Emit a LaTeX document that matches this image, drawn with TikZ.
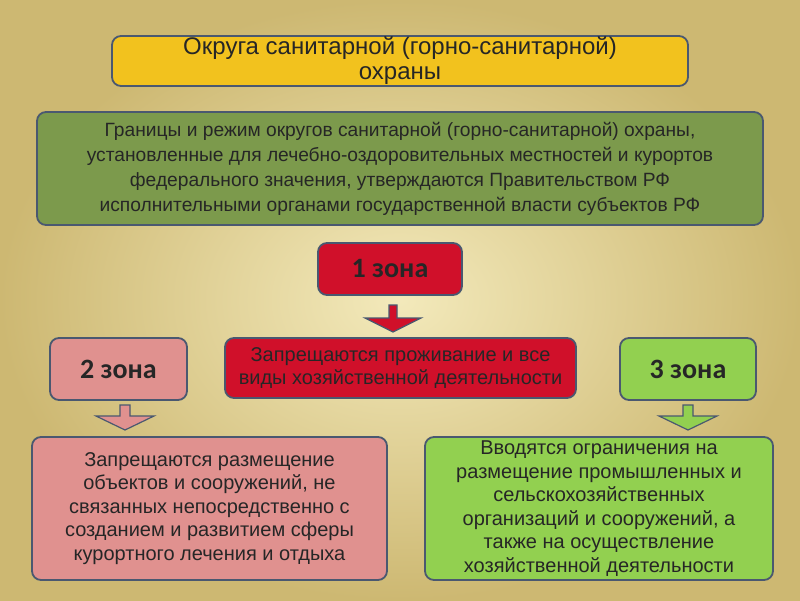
\documentclass[tikz,border=0pt]{standalone}
\usepackage{fontspec}
\setmainfont{Liberation Sans}
\newfontfamily\zonefont{Carlito}
\begin{document}
\begin{tikzpicture}[x=1pt,y=-1pt,
  box/.style={draw=#1, line width=1.8pt, rounded corners=9pt, align=center, inner sep=0pt, text=black!85},
  barrow/.style={draw=#1, line width=1.2pt}]
\definecolor{bgc}{HTML}{F0E4AA}
\definecolor{edgec}{HTML}{CDB872}
\definecolor{slate}{HTML}{4A5870}
\definecolor{titlef}{HTML}{F2C21E}
\definecolor{greenf}{HTML}{7C9A4C}
\definecolor{redf}{HTML}{D0102A}
\definecolor{pinkf}{HTML}{E0918F}
\definecolor{lgreenf}{HTML}{92D050}
\useasboundingbox (0,0) rectangle (800,600);
\shade[inner color=bgc!80!white, outer color=edgec] (0,0) rectangle (800,600);
\node[box=slate, fill=titlef, minimum width=576pt, minimum height=50pt, font=\fontsize{24}{25}\selectfont] (t) at (400,61) {Округа санитарной (горно-санитарной)\\охраны};
\node[box=slate, fill=greenf, minimum width=726pt, minimum height=113pt, font=\fontsize{19.2}{25}\selectfont] (g) at (400,168.5) {Границы и режим округов санитарной (горно-санитарной) охраны,\\установленные для лечебно-оздоровительных местностей и курортов\\федерального значения, утверждаются Правительством РФ\\исполнительными органами государственной власти субъектов РФ};
\node[box=slate, fill=redf, minimum width=144pt, minimum height=52pt, font=\zonefont\bfseries\fontsize{28}{30}\selectfont] (z1) at (390,269) {1 зона};
\node[box=slate, fill=redf, minimum width=351pt, minimum height=60pt, font=\fontsize{20}{23}\selectfont] (m) at (400.5,368) {Запрещаются проживание и все\\виды хозяйственной деятельности};
\node[box=slate, fill=pinkf, minimum width=137pt, minimum height=62pt, font=\zonefont\bfseries\fontsize{28}{30}\selectfont] (z2) at (118.5,369) {2 зона};
\node[box=slate, fill=lgreenf, minimum width=136pt, minimum height=62pt, font=\zonefont\bfseries\fontsize{28}{30}\selectfont] (z3) at (688,369) {3 зона};
\node[box=slate, fill=pinkf, minimum width=355pt, minimum height=143pt, font=\fontsize{20}{23.5}\selectfont] (bl) at (209.5,508.5) {Запрещаются размещение\\объектов и сооружений, не\\связанных непосредственно с\\созданием и развитием сферы\\курортного лечения и отдыха};
\node[box=slate, fill=lgreenf, minimum width=348pt, minimum height=143pt, font=\fontsize{20}{23.5}\selectfont] (br) at (599,508.5) {Вводятся ограничения на\\размещение промышленных и\\сельскохозяйственных\\организаций и сооружений, а\\также на осуществление\\хозяйственной деятельности};
\coordinate (a1) at (393,305);
\coordinate (a2) at (125,405);
\coordinate (a3) at (688,405);
\filldraw[barrow=slate, fill=redf] (a1) ++(-4,0) -- ++(8,0) -- ++(0,13) -- ++(24,0) -- ++(-28,14) -- ++(-28,-14) -- ++(24,0) -- cycle;
\filldraw[barrow=slate, fill=pinkf] (a2) ++(-5,0) -- ++(10,0) -- ++(0,11) -- ++(24,0) -- ++(-29,14) -- ++(-29,-14) -- ++(24,0) -- cycle;
\filldraw[barrow=slate, fill=lgreenf] (a3) ++(-5,0) -- ++(10,0) -- ++(0,11) -- ++(24,0) -- ++(-29,14) -- ++(-29,-14) -- ++(24,0) -- cycle;
\end{tikzpicture}
\end{document}
